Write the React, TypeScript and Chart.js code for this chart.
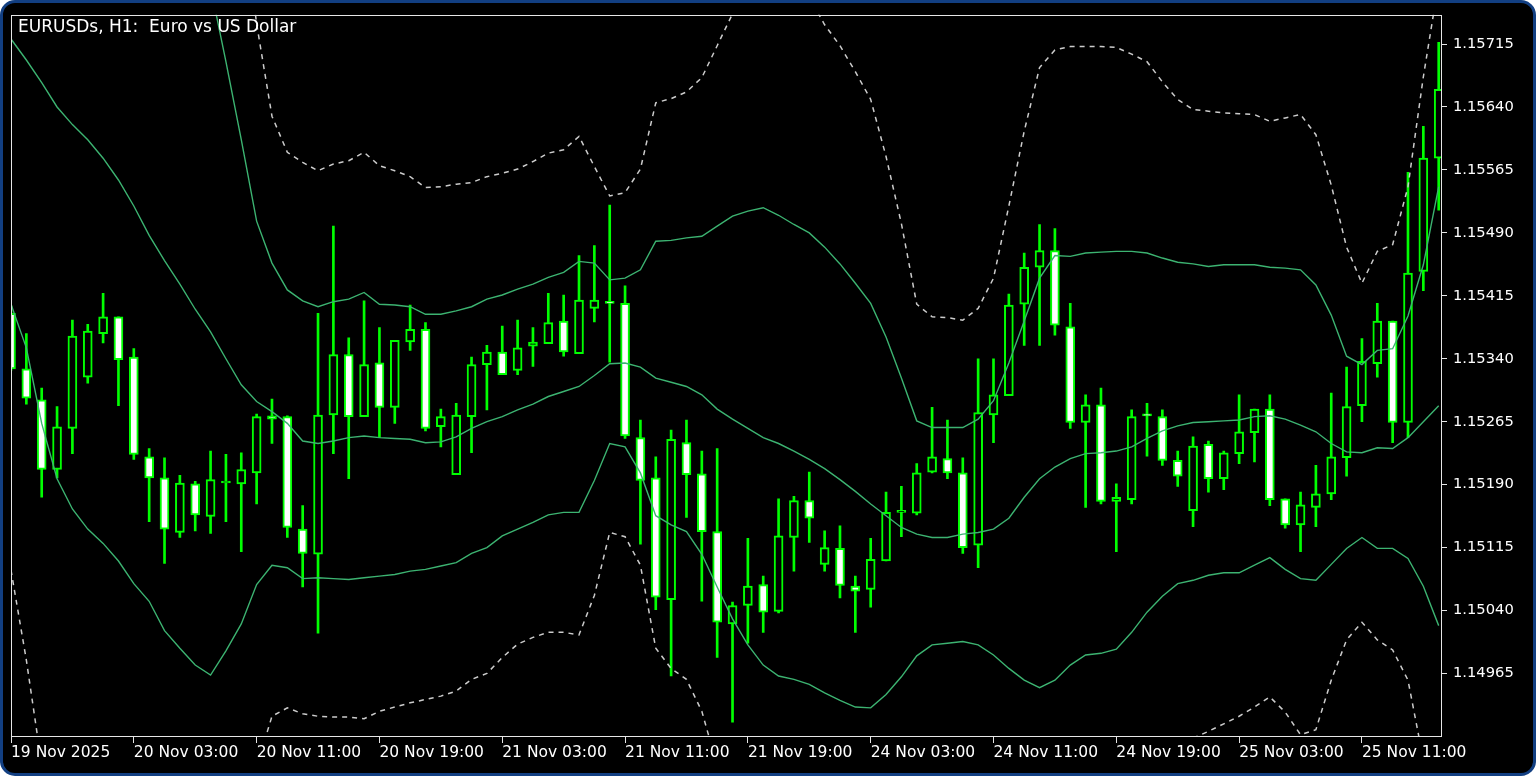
import { useEffect, useRef } from "react";
import { Chart, registerables } from "chart.js";

Chart.register(...registerables);

// ---- Candles (EURUSDs, H1), one entry per bar from 19 Nov 2025 19:00 ----
const opens = [
  1.15394, 1.15328, 1.15291, 1.15208, 1.15257, 1.15318, 1.15370, 1.15390, 1.15342, 1.15223,
  1.15198, 1.15133, 1.15191, 1.15152, 1.15192, 1.15191, 1.15204, 1.15272, 1.15271, 1.15137,
  1.15107, 1.15273, 1.15345, 1.15271, 1.15335, 1.15282, 1.15360, 1.15375, 1.15259, 1.15202,
  1.15271, 1.15333, 1.15348, 1.15326, 1.15355, 1.15358, 1.15385, 1.15346, 1.15400, 1.15407,
  1.15406, 1.15246, 1.15198, 1.15053, 1.15240, 1.15203, 1.15134, 1.15024, 1.15046, 1.15071,
  1.15039, 1.15127, 1.15171, 1.15095, 1.15114, 1.15069, 1.15065, 1.15099, 1.15157, 1.15156,
  1.15205, 1.15221, 1.15204, 1.15118, 1.15273, 1.15296, 1.15405, 1.15449, 1.15469, 1.15378,
  1.15264, 1.15285, 1.15170, 1.15172, 1.15273, 1.15271, 1.15219, 1.15159, 1.15238, 1.15197,
  1.15227, 1.15252, 1.15280, 1.15173, 1.15142, 1.15163, 1.15179, 1.15222, 1.15284, 1.15334,
  1.15385, 1.15264, 1.15444, 1.15579,
];
const highs = [
  1.15403, 1.15370, 1.15305, 1.15283, 1.15386, 1.15381, 1.15418, 1.15390, 1.15352, 1.15233,
  1.15222, 1.15201, 1.15194, 1.15230, 1.15226, 1.15228, 1.15274, 1.15292, 1.15272, 1.15165,
  1.15394, 1.15498, 1.15365, 1.15409, 1.15377, 1.15362, 1.15404, 1.15383, 1.15280, 1.15287,
  1.15342, 1.15356, 1.15379, 1.15386, 1.15377, 1.15418, 1.15416, 1.15463, 1.15475, 1.15523,
  1.15427, 1.15267, 1.15223, 1.15255, 1.15267, 1.15230, 1.15233, 1.15050, 1.15126, 1.15081,
  1.15173, 1.15176, 1.15205, 1.15135, 1.15141, 1.15081, 1.15126, 1.15181, 1.15188, 1.15215,
  1.15282, 1.15267, 1.15222, 1.15340, 1.15340, 1.15417, 1.15466, 1.15500, 1.15495, 1.15406,
  1.15297, 1.15305, 1.15191, 1.15279, 1.15287, 1.15279, 1.15230, 1.15247, 1.15242, 1.15230,
  1.15297, 1.15280, 1.15297, 1.15173, 1.15181, 1.15213, 1.15299, 1.15330, 1.15364, 1.15406,
  1.15385, 1.15562, 1.15617, 1.15717,
];
const lows = [
  1.15326, 1.15286, 1.15175, 1.15198, 1.15227, 1.15311, 1.15359, 1.15284, 1.15220, 1.15146,
  1.15096, 1.15127, 1.15135, 1.15132, 1.15146, 1.15110, 1.15167, 1.15239, 1.15127, 1.15068,
  1.15013, 1.15227, 1.15197, 1.15271, 1.15246, 1.15263, 1.15350, 1.15254, 1.15235, 1.15202,
  1.15228, 1.15279, 1.15321, 1.15321, 1.15331, 1.15358, 1.15343, 1.15346, 1.15384, 1.15336,
  1.15245, 1.15119, 1.15041, 1.14962, 1.15151, 1.15051, 1.14984, 1.14907, 1.15001, 1.15014,
  1.15037, 1.15087, 1.15121, 1.15087, 1.15055, 1.15014, 1.15044, 1.15099, 1.15128, 1.15154,
  1.15204, 1.15197, 1.15108, 1.15091, 1.15240, 1.15296, 1.15356, 1.15356, 1.15368, 1.15257,
  1.15163, 1.15167, 1.15110, 1.15167, 1.15224, 1.15213, 1.15188, 1.15140, 1.15181, 1.15184,
  1.15215, 1.15217, 1.15165, 1.15138, 1.15110, 1.15140, 1.15172, 1.15200, 1.15265, 1.15318,
  1.15240, 1.15246, 1.15421, 1.15517,
];
const closes = [
  1.15328, 1.15293, 1.15208, 1.15259, 1.15367, 1.15373, 1.15390, 1.15339, 1.15226, 1.15198,
  1.15137, 1.15192, 1.15154, 1.15196, 1.15192, 1.15208, 1.15271, 1.15268, 1.15139, 1.15108,
  1.15273, 1.15345, 1.15271, 1.15333, 1.15282, 1.15362, 1.15375, 1.15257, 1.15271, 1.15273,
  1.15333, 1.15348, 1.15321, 1.15353, 1.15360, 1.15383, 1.15348, 1.15410, 1.15410, 1.15406,
  1.15248, 1.15195, 1.15056, 1.15244, 1.15202, 1.15134, 1.15026, 1.15046, 1.15069, 1.15038,
  1.15129, 1.15171, 1.15150, 1.15115, 1.15070, 1.15063, 1.15101, 1.15157, 1.15157, 1.15204,
  1.15223, 1.15204, 1.15115, 1.15276, 1.15297, 1.15404, 1.15449, 1.15469, 1.15380, 1.15264,
  1.15285, 1.15170, 1.15175, 1.15271, 1.15272, 1.15219, 1.15200, 1.15236, 1.15197, 1.15228,
  1.15253, 1.15280, 1.15172, 1.15142, 1.15166, 1.15179, 1.15223, 1.15283, 1.15337, 1.15385,
  1.15264, 1.15442, 1.15579, 1.15661,
];

// ---- Bollinger bands (solid green) ----
const bbMiddle = [
  1.15721, 1.15696, 1.15669, 1.15640, 1.15619, 1.15601, 1.15579, 1.15553, 1.15522, 1.15487,
  1.15457, 1.15429, 1.15399, 1.15372, 1.15340, 1.15309, 1.15289, 1.15277, 1.15263, 1.15242,
  1.15239, 1.15242, 1.15246, 1.15248, 1.15246, 1.15245, 1.15244, 1.15240, 1.15241, 1.15247,
  1.15257, 1.15265, 1.15271, 1.15279, 1.15286, 1.15295, 1.15301, 1.15307, 1.15320, 1.15334,
  1.15335, 1.15330, 1.15317, 1.15312, 1.15307, 1.15297, 1.15280, 1.15268, 1.15257, 1.15246,
  1.15239, 1.15230, 1.15220, 1.15209, 1.15196, 1.15182, 1.15167, 1.15153, 1.15139, 1.15131,
  1.15127, 1.15127, 1.15131, 1.15133, 1.15137, 1.15150, 1.15175, 1.15197, 1.15211, 1.15221,
  1.15227, 1.15228, 1.15230, 1.15235, 1.15245, 1.15254, 1.15260, 1.15264, 1.15265, 1.15266,
  1.15267, 1.15271, 1.15272, 1.15268, 1.15261, 1.15253, 1.15239, 1.15229, 1.15228, 1.15234,
  1.15233, 1.15246, 1.15265, 1.15284,
];
const bbUpper = [
  1.16037, 1.16040, 1.16076, 1.16084, 1.16077, 1.16066, 1.16037, 1.16007, 1.15971, 1.15923,
  1.15898, 1.15863, 1.15824, 1.15783, 1.15694, 1.15601, 1.15504, 1.15454, 1.15422, 1.15409,
  1.15402, 1.15408, 1.15411, 1.15419, 1.15405, 1.15404, 1.15402, 1.15393, 1.15393, 1.15397,
  1.15402, 1.15411, 1.15416, 1.15423, 1.15429, 1.15437, 1.15443, 1.15456, 1.15454, 1.15434,
  1.15436, 1.15446, 1.15480, 1.15481, 1.15484, 1.15486, 1.15498, 1.15510, 1.15516, 1.15520,
  1.15511, 1.15500, 1.15490, 1.15473, 1.15453, 1.15430, 1.15406, 1.15366, 1.15317, 1.15266,
  1.15258, 1.15258, 1.15258, 1.15268, 1.15290, 1.15335, 1.15385, 1.15436, 1.15463, 1.15462,
  1.15466, 1.15467, 1.15468, 1.15468, 1.15466, 1.15460, 1.15455, 1.15453, 1.15450, 1.15452,
  1.15452, 1.15452, 1.15449, 1.15448, 1.15446, 1.15428, 1.15392, 1.15343, 1.15333, 1.15350,
  1.15352, 1.15391, 1.15452, 1.15545,
];
const bbLower = [
  1.15405, 1.15353, 1.15263, 1.15197, 1.15161, 1.15137, 1.15120, 1.15099, 1.15072, 1.15051,
  1.15016, 1.14995, 1.14975, 1.14963, 1.14992, 1.15024, 1.15071, 1.15094, 1.15091, 1.15078,
  1.15079, 1.15078, 1.15077, 1.15079, 1.15081, 1.15083, 1.15087, 1.15089, 1.15093, 1.15097,
  1.15108, 1.15115, 1.15129, 1.15137, 1.15145, 1.15154, 1.15157, 1.15157, 1.15195, 1.15239,
  1.15235, 1.15204, 1.15153, 1.15142, 1.15134, 1.15107, 1.15068, 1.15030, 1.14999, 1.14975,
  1.14962, 1.14958, 1.14952, 1.14942, 1.14933, 1.14925, 1.14924, 1.14940, 1.14961, 1.14986,
  1.14999, 1.15001, 1.15003, 1.14999, 1.14987, 1.14971, 1.14957, 1.14948, 1.14957, 1.14975,
  1.14987, 1.14989, 1.14994, 1.15014, 1.15038, 1.15057, 1.15072, 1.15076, 1.15082, 1.15085,
  1.15085, 1.15094, 1.15103, 1.15089, 1.15078, 1.15076, 1.15095, 1.15114, 1.15127, 1.15114,
  1.15114, 1.15102, 1.15069, 1.15022,
];

// ---- Wide Bollinger bands (dashed silver) ----
const bbUpperWide = [
  1.16360, 1.16383, 1.16478, 1.16526, 1.16538, 1.16526, 1.16478, 1.16431, 1.16419, 1.16360,
  1.16336, 1.16300, 1.16241, 1.16193, 1.16051, 1.15884, 1.15739, 1.15629, 1.15586, 1.15574,
  1.15564, 1.15572, 1.15576, 1.15586, 1.15570, 1.15564, 1.15557, 1.15544, 1.15545, 1.15548,
  1.15550, 1.15557, 1.15561, 1.15566, 1.15575, 1.15585, 1.15589, 1.15605, 1.15569, 1.15534,
  1.15538, 1.15566, 1.15645, 1.15650, 1.15658, 1.15675, 1.15713, 1.15751, 1.15783, 1.15801,
  1.15807, 1.15801, 1.15771, 1.15738, 1.15713, 1.15682, 1.15649, 1.15581, 1.15501, 1.15405,
  1.15390, 1.15389, 1.15386, 1.15400, 1.15436, 1.15522, 1.15611, 1.15687, 1.15708, 1.15712,
  1.15712, 1.15712, 1.15711, 1.15703, 1.15694, 1.15670, 1.15649, 1.15637, 1.15635, 1.15633,
  1.15632, 1.15631, 1.15623, 1.15627, 1.15631, 1.15607, 1.15547, 1.15473, 1.15430, 1.15468,
  1.15476, 1.15545, 1.15676, 1.15789,
];
const bbLowerWide = [
  1.15088, 1.14981, 1.14856, 1.14754, 1.14704, 1.14672, 1.14661, 1.14644, 1.14623, 1.14615,
  1.14576, 1.14561, 1.14551, 1.14554, 1.14643, 1.14738, 1.14854, 1.14914, 1.14924, 1.14917,
  1.14914, 1.14913, 1.14913, 1.14911, 1.14920, 1.14925, 1.14930, 1.14934, 1.14938, 1.14944,
  1.14958, 1.14965, 1.14984, 1.15000, 1.15008, 1.15014, 1.15014, 1.15011, 1.15058, 1.15133,
  1.15128, 1.15094, 1.14995, 1.14971, 1.14958, 1.14920, 1.14855, 1.14791, 1.14741, 1.14704,
  1.14685, 1.14686, 1.14685, 1.14674, 1.14671, 1.14668, 1.14680, 1.14728, 1.14782, 1.14841,
  1.14870, 1.14875, 1.14876, 1.14864, 1.14837, 1.14793, 1.14740, 1.14698, 1.14703, 1.14729,
  1.14747, 1.14750, 1.14757, 1.14793, 1.14831, 1.14860, 1.14880, 1.14888, 1.14896, 1.14905,
  1.14914, 1.14925, 1.14937, 1.14919, 1.14892, 1.14898, 1.14957, 1.15005, 1.15026, 1.15005,
  1.14993, 1.14957, 1.14862, 1.14791,
];

// ---- Axes ----
const xTickBars = [0, 8, 16, 24, 32, 40, 48, 56, 64, 72, 80, 88];
const xTickLabels = [
  "19 Nov 2025", "20 Nov 03:00", "20 Nov 11:00", "20 Nov 19:00", "21 Nov 03:00", "21 Nov 11:00",
  "21 Nov 19:00", "24 Nov 03:00", "24 Nov 11:00", "24 Nov 19:00", "25 Nov 03:00", "25 Nov 11:00",
];
const yTickValues = [
  1.14965, 1.1504, 1.15115, 1.1519, 1.15265, 1.1534, 1.15415, 1.1549, 1.15565, 1.1564, 1.15715,
];
const Y_MIN = 1.1489048;
const Y_MAX = 1.1574983;
const X_MIN = 0;
const X_MAX = 93.15;

const TITLE = "EURUSDs, H1:  Euro vs US Dollar";

const LIME = "#00ff00";
const BAND = "#3cb371";
const DASH = "#cccccc";
const FRAME = "#e6e6e6";
const FONT = "'DejaVu Sans', sans-serif";

export default function App() {
  const canvasRef = useRef<HTMLCanvasElement | null>(null);

  useEffect(() => {
    const canvas = canvasRef.current;
    if (!canvas) return;

    const pts = (arr: number[]) => arr.map((v, i) => ({ x: i, y: v }));
    const lineDs = (arr: number[], color: string, dashed: boolean) => ({
      type: "line" as const,
      data: pts(arr),
      borderColor: color,
      borderWidth: dashed ? 1.5 : 1.4,
      borderDash: dashed ? [5, 5] : [],
      pointRadius: 0,
      pointHoverRadius: 0,
      tension: 0,
      fill: false,
      clip: 0,
      order: 0,
    });

    const framePlugin = {
      id: "mtFrame",
      afterDatasetsDraw(chart: any) {
        const { ctx, chartArea: a } = chart;
        ctx.save();
        ctx.strokeStyle = FRAME;
        ctx.lineWidth = 1;
        ctx.strokeRect(
          Math.round(a.left) + 0.5,
          Math.round(a.top) + 0.5,
          Math.round(a.right - a.left),
          Math.round(a.bottom - a.top)
        );
        ctx.restore();
      },
    };

    const chart = new Chart(canvas, {
      type: "bar",
      data: {
        datasets: [
          lineDs(bbUpperWide, DASH, true),
          lineDs(bbLowerWide, DASH, true),
          lineDs(bbUpper, BAND, false),
          lineDs(bbMiddle, BAND, false),
          lineDs(bbLower, BAND, false),
          {
            type: "bar",
            data: opens.map((o, i) => ({ x: i, y: [o, closes[i]] })),
            backgroundColor: opens.map((o, i) => (closes[i] < o ? "#ffffff" : "#000000")),
            borderColor: LIME,
            borderWidth: 2,
            borderSkipped: false,
            barThickness: 9,
            minBarLength: 2,
            grouped: false,
            clip: 0,
            order: 1,
          },
          {
            type: "bar",
            data: lows.map((l, i) => ({ x: i, y: [l, highs[i]] })),
            backgroundColor: LIME,
            borderWidth: 0,
            barThickness: 2,
            grouped: false,
            clip: 0,
            order: 2,
          },
        ] as any,
      },
      options: {
        animation: false,
        responsive: true,
        maintainAspectRatio: false,
        devicePixelRatio: 1,
        events: [],
        layout: { padding: { left: 11, top: 13, right: 0, bottom: 0 } },
        plugins: {
          legend: { display: false },
          tooltip: { enabled: false },
          title: { display: false },
        },
        scales: {
          x: {
            type: "linear",
            min: X_MIN,
            max: X_MAX,
            offset: false,
            afterBuildTicks: (s: any) => {
              s.ticks = xTickBars.map((v) => ({ value: v }));
            },
            afterFit: (s: any) => {
              s.height = 40;
            },
            ticks: {
              autoSkip: false,
              maxRotation: 0,
              minRotation: 0,
              align: "start",
              color: "#ffffff",
              padding: 1,
              font: { family: FONT, size: 15.5 },
              callback: (_v: any, i: number) => xTickLabels[i],
            },
            grid: {
              display: true,
              drawOnChartArea: false,
              drawTicks: true,
              tickLength: 7,
              color: FRAME,
              offset: false,
            },
            border: { display: false },
          },
          y: {
            type: "linear",
            position: "right",
            min: Y_MIN,
            max: Y_MAX,
            beginAtZero: false,
            afterBuildTicks: (s: any) => {
              s.ticks = yTickValues.map((v) => ({ value: v }));
            },
            afterFit: (s: any) => {
              s.width = 95;
            },
            ticks: {
              color: "#ffffff",
              padding: 6,
              font: { family: FONT, size: 14.7 },
              callback: (v: any) => Number(v).toFixed(5),
            },
            grid: {
              display: true,
              drawOnChartArea: false,
              drawTicks: true,
              tickLength: 6,
              color: FRAME,
            },
            border: { display: false },
          },
        },
      } as any,
      plugins: [framePlugin],
    });

    return () => {
      chart.destroy();
    };
  }, []);

  return (
    <div
      style={{
        position: "fixed",
        left: 0,
        top: 0,
        width: 1536,
        height: 776,
        background: "#ffffff",
        overflow: "hidden",
      }}
    >
      <div
        style={{
          position: "absolute",
          left: 0,
          top: 0,
          width: 1536,
          height: 776,
          boxSizing: "border-box",
          background: "#000000",
          border: "3px solid #123f82",
          borderRadius: 15,
        }}
      />
      <div style={{ position: "absolute", left: 0, top: 0, width: 1536, height: 776 }}>
        <canvas ref={canvasRef} />
      </div>
      <div
        style={{
          position: "absolute",
          left: 18,
          top: 18,
          color: "#ffffff",
          fontFamily: FONT,
          fontSize: 17,
          lineHeight: "17px",
          whiteSpace: "pre",
        }}
      >
        {TITLE}
      </div>
    </div>
  );
}
